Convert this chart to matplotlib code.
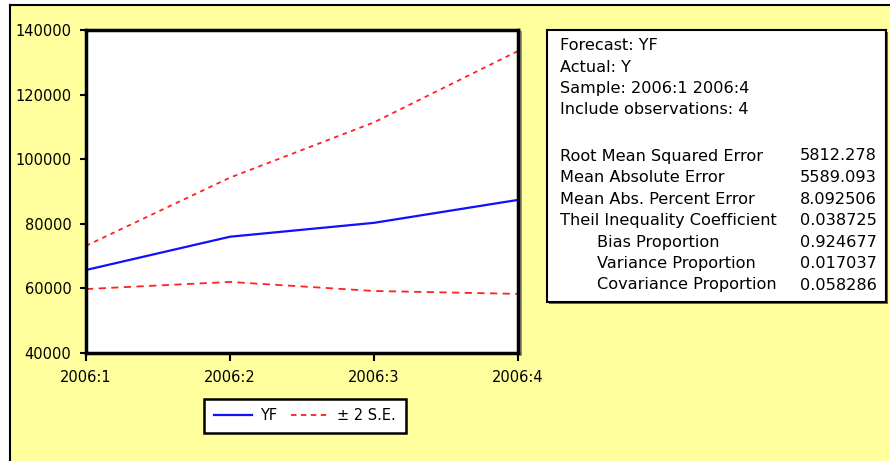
import matplotlib
matplotlib.use("Agg")
import matplotlib.pyplot as plt
from matplotlib.patches import Rectangle
from matplotlib.lines import Line2D

# Forecast evaluation data
periods = ["2006:1", "2006:2", "2006:3", "2006:4"]
yf = [65700, 76000, 80300, 87400]
upper_2se = [73200, 94300, 111400, 133500]
lower_2se = [59800, 62000, 59200, 58300]

y_ticks = [40000, 60000, 80000, 100000, 120000, 140000]

header_lines = [
    "Forecast: YF",
    "Actual: Y",
    "Sample: 2006:1 2006:4",
    "Include observations: 4",
]
stat_names = [
    "Root Mean Squared Error",
    "Mean Absolute Error",
    "Mean Abs. Percent Error",
    "Theil Inequality Coefficient",
    "Bias Proportion",
    "Variance Proportion",
    "Covariance Proportion",
]
stat_values = ["5812.278", "5589.093", "8.092506", "0.038725",
               "0.924677", "0.017037", "0.058286"]
stat_indent = [False, False, False, False, True, True, True]

W, H = 890, 461
BG = "#FFFF9E"
FONT = "DejaVu Sans"
FS = 10.5
FS_BOX = 11.6

fig = plt.figure(figsize=(W / 100, H / 100), dpi=100)
fig.patch.set_facecolor("white")


def fx(px):
    return px / W


def fy(py):
    return 1 - py / H


# Dotted yellow panel with black frame on top/left
fig.patches.append(Rectangle((fx(10), 0), 1 - fx(10), fy(5), transform=fig.transFigure,
                             facecolor=BG, edgecolor="none", zorder=-2))
fig.lines.append(Line2D([fx(10), fx(10)], [0, fy(5)], transform=fig.transFigure,
                        color="black", lw=1.5, zorder=-1))
fig.lines.append(Line2D([fx(10), 1], [fy(5), fy(5)], transform=fig.transFigure,
                        color="black", lw=1.5, zorder=-1))

# Plot area
left, right, top, bottom = 86, 518, 30, 353
# soft grey shadow along the right of the plot frame
fig.lines.append(Line2D([fx(right + 3), fx(right + 3)], [fy(bottom + 2), fy(top + 2)],
                        transform=fig.transFigure, color="#777777", lw=1.2, zorder=0))
ax = fig.add_axes([fx(left), fy(bottom), fx(right - left), (bottom - top) / H])
ax.set_zorder(1)
ax.set_facecolor("white")
x = list(range(len(periods)))
ax.plot(x, yf, color="#1010FF", lw=1.6, solid_capstyle="butt")
ax.plot(x, upper_2se, color="#FF2020", lw=1.3, linestyle=(0, (2.5, 2.5)))
ax.plot(x, lower_2se, color="#FF2020", lw=1.3, linestyle=(0, (4, 3)))
ax.set_xlim(0, 3)
ax.set_ylim(40000, 140000)
ax.set_xticks(x)
ax.set_xticklabels(periods)
ax.set_yticks(y_ticks)
ax.set_yticklabels([str(v) for v in y_ticks])
for side in ["top", "right", "bottom", "left"]:
    ax.spines[side].set_linewidth(2.5)
    ax.spines[side].set_color("black")
ax.tick_params(axis="both", direction="out", width=1.5, color="black", labelsize=FS)
ax.tick_params(axis="y", length=4, pad=6.5)
ax.tick_params(axis="x", length=6, pad=6.5)
for lab in ax.get_xticklabels() + ax.get_yticklabels():
    lab.set_family(FONT)

# Legend
handles = [Line2D([], [], color="#1010FF", lw=1.6),
           Line2D([], [], color="#FF2020", lw=1.3, linestyle=(0, (3, 2.5)))]
leg = fig.legend(handles, ["YF", "± 2 S.E."], ncol=2, loc="center",
                 bbox_to_anchor=(fx(305), fy(416)), frameon=True, fancybox=False,
                 prop={"family": FONT, "size": FS}, handlelength=2.6,
                 columnspacing=0.9, handletextpad=0.6, borderpad=0.65,
                 borderaxespad=0)
leg.get_frame().set_edgecolor("black")
leg.get_frame().set_linewidth(1.8)
leg.get_frame().set_facecolor("white")
leg.get_frame().set_alpha(1)

# Statistics box with a grey drop shadow
bx0, by0, bx1, by1 = 547, 30, 886, 302
fig.patches.append(Rectangle((fx(bx0 + 2), fy(by1 + 2)), fx(bx1 - bx0), (by1 - by0) / H,
                             transform=fig.transFigure, facecolor="#666666",
                             edgecolor="none", zorder=1.5))
fig.patches.append(Rectangle((fx(bx0), fy(by1)), fx(bx1 - bx0), (by1 - by0) / H,
                             transform=fig.transFigure, facecolor="white",
                             edgecolor="black", lw=1.5, zorder=2))

row_y = [46, 67, 89, 110]
for t, yy in zip(header_lines, row_y):
    fig.text(fx(560), fy(yy), t, family=FONT, size=FS_BOX, va="center", ha="left", zorder=3)

for i, (name, val, ind) in enumerate(zip(stat_names, stat_values, stat_indent)):
    yy = 156 + i * 21.5
    fig.text(fx(597 if ind else 560), fy(yy), name, family=FONT, size=FS_BOX,
             va="center", ha="left", zorder=3)
    fig.text(fx(877), fy(yy), val, family=FONT, size=FS_BOX, va="center", ha="right", zorder=3)

fig.savefig("out.png", dpi=100, facecolor=fig.get_facecolor())
